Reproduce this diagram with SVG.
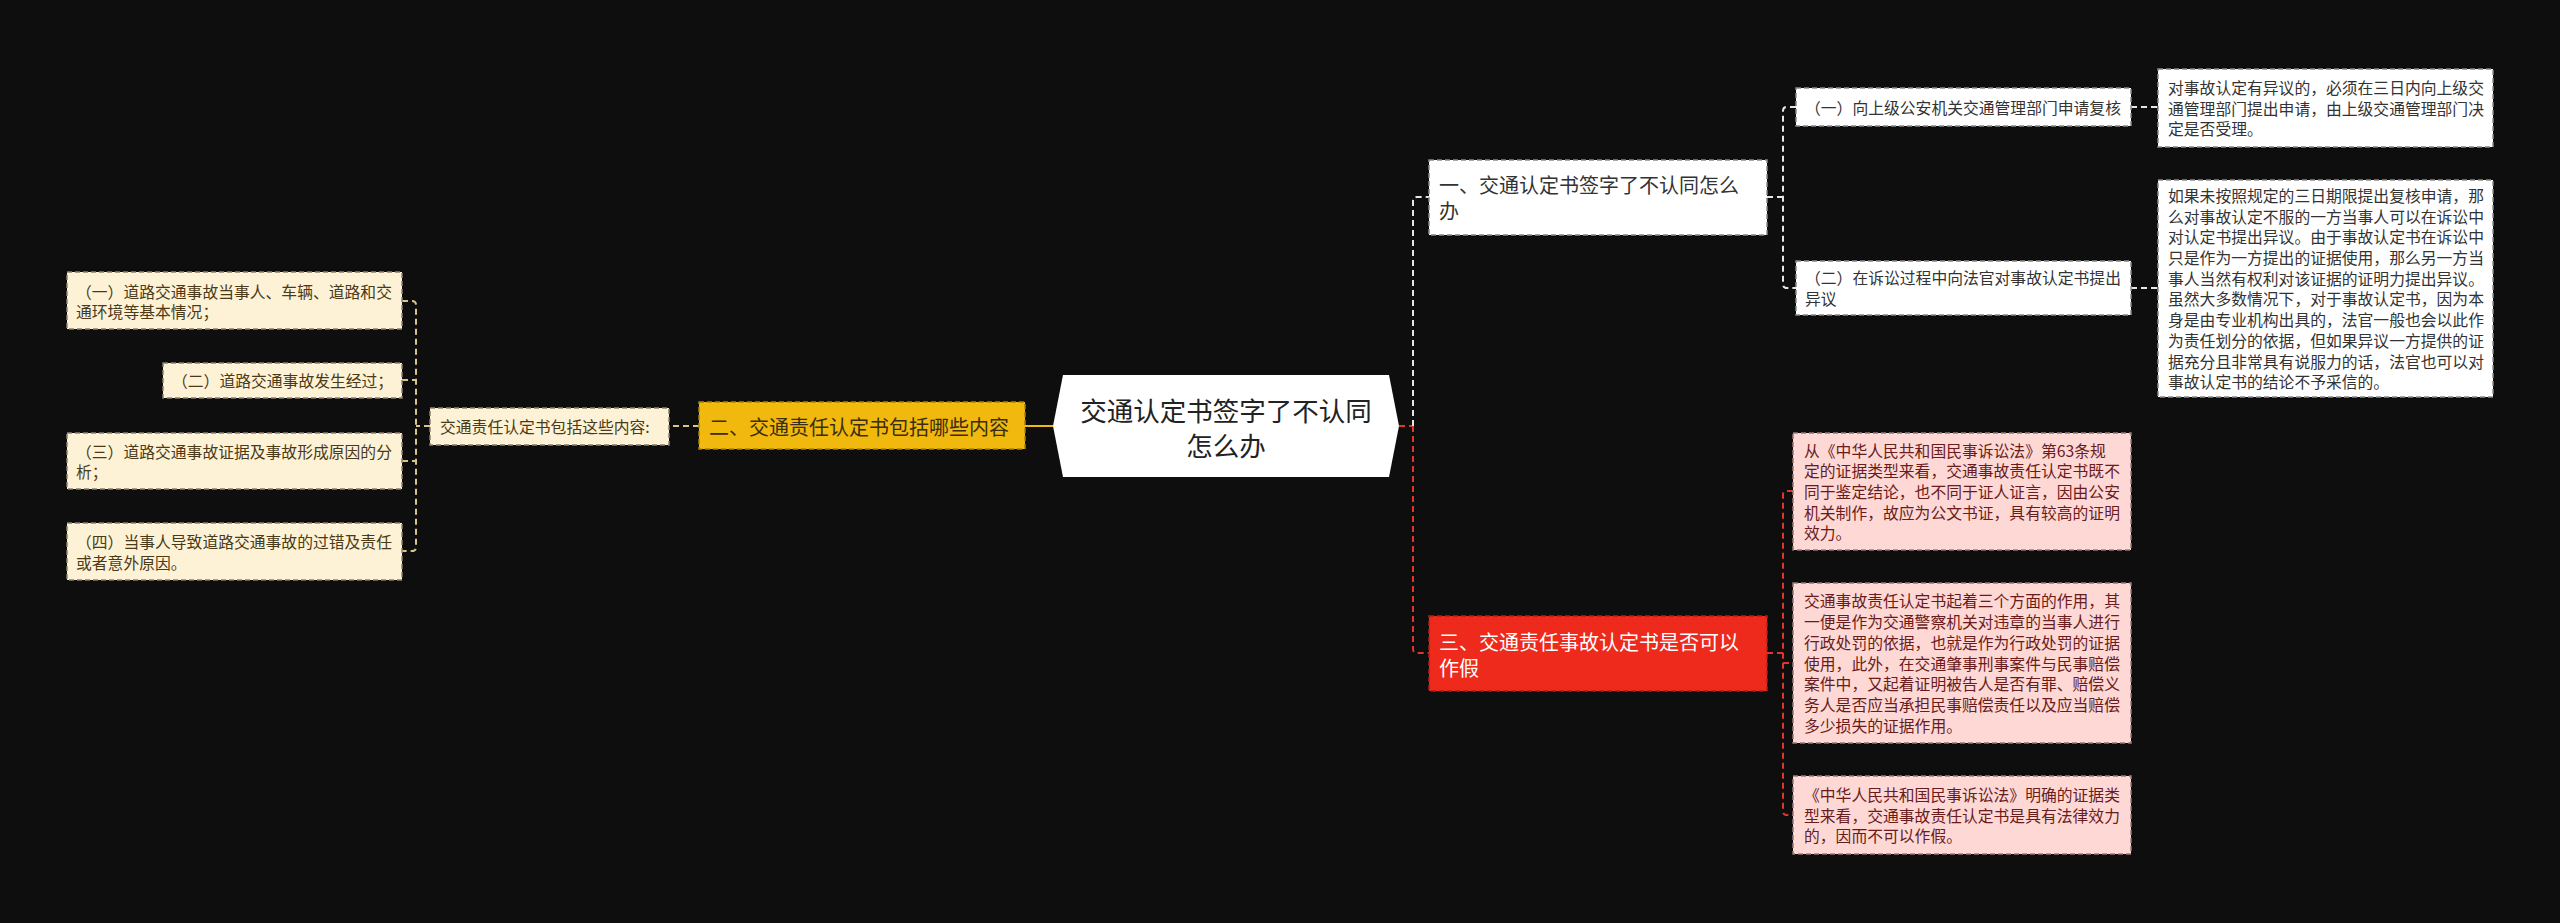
<svg xmlns="http://www.w3.org/2000/svg" width="2560" height="923" viewBox="0 0 2560 923">
<style>
text{font-family:"Noto Sans CJK SC","Noto Sans",sans-serif;dominant-baseline:central}
.t16{font-size:15.8px}
.t20{font-size:20px}
.root{font-size:26.5px;fill:#222}
.wbox{fill:#ffffff;stroke:#8a8a8a;stroke-width:1.5;stroke-dasharray:5 3}
.cream{fill:#fdf2d6;stroke:#8a8170;stroke-width:1.5;stroke-dasharray:5 3}
.pink{fill:#fdd8d5;stroke:#9a7a78;stroke-width:1.5;stroke-dasharray:5 3}
.ctext{fill:#4a3a18}
.ptext{fill:#6a1b1b}
.wtext{fill:#333333}
.cw{fill:none;stroke:#e6e6e6;stroke-width:2;stroke-dasharray:6 4}
.cr{fill:none;stroke:#e3342a;stroke-width:2;stroke-dasharray:6 4}
.cy{fill:none;stroke:#d9c58a;stroke-width:2;stroke-dasharray:6 4}
</style>
<rect width="2560" height="923" fill="#0e0e0e"/>
<g id="connectors">
  <path class="cr" d="M1399 426 H1413"/>
  <path class="cw" d="M1413 426 V201 q0 -4 4 -4 H1429"/>
  <path class="cr" d="M1413 426 V649 q0 4 4 4 H1429"/>
  <path d="M1053 426 H1025" fill="none" stroke="#f1b80d" stroke-width="2"/>
  <path class="cy" d="M699 426 H669"/>
  <path class="cy" d="M430 426 H416"/>
  <path class="cy" d="M402 301 H412 q4 0 4 4 V547 q0 4 -4 4 H402"/>
  <path class="cy" d="M402 380 H416"/>
  <path class="cy" d="M402 461 H416"/>
  <path class="cw" d="M1767 197 H1783"/>
  <path class="cw" d="M1796 107 H1787 q-4 0 -4 4 V284 q0 4 4 4 H1796"/>
  <path class="cw" d="M2131 107 H2158"/>
  <path class="cw" d="M2131 288 H2158"/>
  <path class="cr" d="M1767 653 H1783"/>
  <path class="cr" d="M1793 491 H1787 q-4 0 -4 4 V811 q0 4 4 4 H1793"/>
  <path class="cr" d="M1783 663 H1793"/>
</g>
<g id="root">
  <polygon points="1053,426 1063,375 1389,375 1399,426 1389,477 1063,477" fill="#ffffff"/>
  <text class="root" text-anchor="middle"><tspan x="1226" y="409">交通认定书签字了不认同</tspan><tspan x="1226" y="444">怎么办</tspan></text>
</g>
<g id="node-1">
  <rect class="wbox" x="1429" y="160" width="338" height="75"/>
  <text class="t20 wtext" x="1439" y="184.5">一、交通认定书签字了不认同怎么</text>
  <text class="t20 wtext" x="1439" y="210.5">办</text>
</g>
<g id="node-1-1">
  <rect class="wbox" x="1796" y="88" width="335" height="38"/>
  <text class="t16 wtext" x="1805" y="107">（一）向上级公安机关交通管理部门申请复核</text>
</g>
<g id="leaf-1-1">
  <rect class="wbox" x="2158" y="69" width="335" height="78"/>
  <text class="t16 wtext" x="2168" y="87.5">对事故认定有异议的，必须在三日内向上级交</text>
  <text class="t16 wtext" x="2168" y="108">通管理部门提出申请，由上级交通管理部门决</text>
  <text class="t16 wtext" x="2168" y="128.5">定是否受理。</text>
</g>
<g id="node-1-2">
  <rect class="wbox" x="1796" y="261" width="335" height="54"/>
  <text class="t16 wtext" x="1805" y="277.5">（二）在诉讼过程中向法官对事故认定书提出</text>
  <text class="t16 wtext" x="1805" y="298.5">异议</text>
</g>
<g id="leaf-1-2">
  <rect class="wbox" x="2158" y="180" width="335" height="217"/>
  <text class="t16 wtext" x="2168" y="195.4">如果未按照规定的三日期限提出复核申请，那</text>
  <text class="t16 wtext" x="2168" y="216.1">么对事故认定不服的一方当事人可以在诉讼中</text>
  <text class="t16 wtext" x="2168" y="236.8">对认定书提出异议。由于事故认定书在诉讼中</text>
  <text class="t16 wtext" x="2168" y="257.5">只是作为一方提出的证据使用，那么另一方当</text>
  <text class="t16 wtext" x="2168" y="278.2">事人当然有权利对该证据的证明力提出异议。</text>
  <text class="t16 wtext" x="2168" y="298.9">虽然大多数情况下，对于事故认定书，因为本</text>
  <text class="t16 wtext" x="2168" y="319.6">身是由专业机构出具的，法官一般也会以此作</text>
  <text class="t16 wtext" x="2168" y="340.3">为责任划分的依据，但如果异议一方提供的证</text>
  <text class="t16 wtext" x="2168" y="361">据充分且非常具有说服力的话，法官也可以对</text>
  <text class="t16 wtext" x="2168" y="381.7">事故认定书的结论不予采信的。</text>
</g>
<g id="node-3">
  <rect x="1429" y="616" width="338" height="75" fill="#ee2a1d" stroke="#b51d14" stroke-width="1.5" stroke-dasharray="5 3"/>
  <text class="t20" fill="#ffffff" x="1439" y="641">三、交通责任事故认定书是否可以</text>
  <text class="t20" fill="#ffffff" x="1439" y="667">作假</text>
</g>
<g id="leaf-3-1">
  <rect class="pink" x="1793" y="433" width="338" height="117"/>
  <text class="t16 ptext" x="1804" y="450">从《中华人民共和国民事诉讼法》第63条规</text>
  <text class="t16 ptext" x="1804" y="470.7">定的证据类型来看，交通事故责任认定书既不</text>
  <text class="t16 ptext" x="1804" y="491.4">同于鉴定结论，也不同于证人证言，因由公安</text>
  <text class="t16 ptext" x="1804" y="512.1">机关制作，故应为公文书证，具有较高的证明</text>
  <text class="t16 ptext" x="1804" y="532.8">效力。</text>
</g>
<g id="leaf-3-2">
  <rect class="pink" x="1793" y="583" width="338" height="160"/>
  <text class="t16 ptext" x="1804" y="600.9">交通事故责任认定书起着三个方面的作用，其</text>
  <text class="t16 ptext" x="1804" y="621.6">一便是作为交通警察机关对违章的当事人进行</text>
  <text class="t16 ptext" x="1804" y="642.3">行政处罚的依据，也就是作为行政处罚的证据</text>
  <text class="t16 ptext" x="1804" y="663">使用，此外，在交通肇事刑事案件与民事赔偿</text>
  <text class="t16 ptext" x="1804" y="683.7">案件中，又起着证明被告人是否有罪、赔偿义</text>
  <text class="t16 ptext" x="1804" y="704.4">务人是否应当承担民事赔偿责任以及应当赔偿</text>
  <text class="t16 ptext" x="1804" y="725.1">多少损失的证据作用。</text>
</g>
<g id="leaf-3-3">
  <rect class="pink" x="1793" y="776" width="338" height="78"/>
  <text class="t16 ptext" x="1804" y="794.3">《中华人民共和国民事诉讼法》明确的证据类</text>
  <text class="t16 ptext" x="1804" y="815">型来看，交通事故责任认定书是具有法律效力</text>
  <text class="t16 ptext" x="1804" y="835.7">的，因而不可以作假。</text>
</g>
<g id="node-2">
  <rect x="699" y="402" width="326" height="47" fill="#f1b80d" stroke="#a98207" stroke-width="1.5" stroke-dasharray="5 3"/>
  <text class="t20" fill="#3a2e10" x="709" y="426">二、交通责任认定书包括哪些内容</text>
</g>
<g id="node-2-1">
  <rect class="cream" x="430" y="408" width="239" height="37"/>
  <text class="t16 ctext" x="440" y="426.5">交通责任认定书包括这些内容:</text>
</g>
<g id="leaf-2-1">
  <rect class="cream" x="67" y="272" width="335" height="57"/>
  <text class="t16 ctext" x="76" y="291">（一）道路交通事故当事人、车辆、道路和交</text>
  <text class="t16 ctext" x="76" y="311.5">通环境等基本情况；</text>
</g>
<g id="leaf-2-2">
  <rect class="cream" x="163" y="363" width="239" height="35"/>
  <text class="t16 ctext" x="172" y="380.5">（二）道路交通事故发生经过；</text>
</g>
<g id="leaf-2-3">
  <rect class="cream" x="67" y="433" width="335" height="56"/>
  <text class="t16 ctext" x="76" y="451">（三）道路交通事故证据及事故形成原因的分</text>
  <text class="t16 ctext" x="76" y="471.5">析；</text>
</g>
<g id="leaf-2-4">
  <rect class="cream" x="67" y="523" width="335" height="57"/>
  <text class="t16 ctext" x="76" y="541.5">（四）当事人导致道路交通事故的过错及责任</text>
  <text class="t16 ctext" x="76" y="562">或者意外原因。</text>
</g>
</svg>
